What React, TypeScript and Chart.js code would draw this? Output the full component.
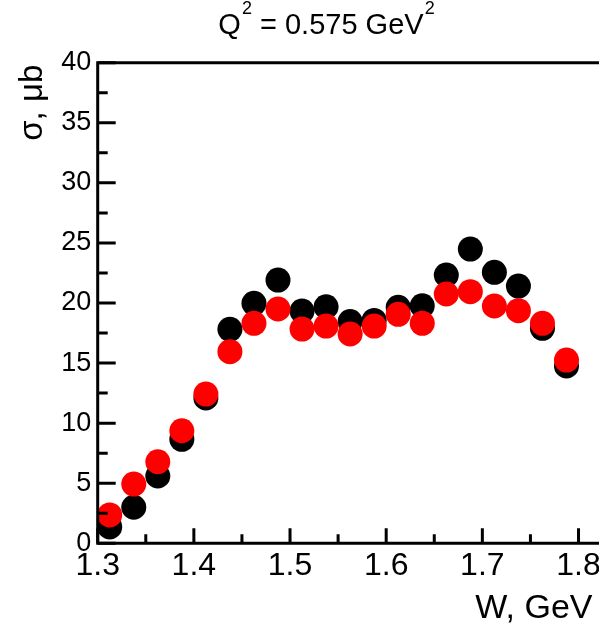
import React, { useEffect, useRef } from 'react';
import { Chart, registerables } from 'chart.js';

Chart.register(...registerables);

// ---- data ----
const W_GEV = [
  1.3125, 1.3375, 1.3625, 1.3875, 1.4125, 1.4375, 1.4625, 1.4875, 1.5125, 1.5375,
  1.5625, 1.5875, 1.6125, 1.6375, 1.6625, 1.6875, 1.7125, 1.7375, 1.7625, 1.7875,
];
const SIGMA_BLACK = [
  1.36, 3.0, 5.6, 8.65, 12.1, 17.81, 19.97, 21.91, 19.33, 19.69,
  18.45, 18.55, 19.64, 19.77, 22.33, 24.49, 22.55, 21.41, 17.89, 14.76,
];
const SIGMA_RED = [
  2.36, 4.93, 6.79, 9.37, 12.42, 15.95, 18.31, 19.5, 17.83, 18.08,
  17.42, 18.08, 19.06, 18.31, 20.75, 20.94, 19.75, 19.36, 18.31, 15.25,
];
const X_TICKS = [1.3, 1.4, 1.5, 1.6, 1.7, 1.8];
const X_MINOR = [1.35, 1.45, 1.55, 1.65, 1.75];
const Y_TICKS = [0, 5, 10, 15, 20, 25, 30, 35, 40];
const Y_MINOR = [2.5, 7.5, 12.5, 17.5, 22.5, 27.5, 32.5, 37.5];
const X_MIN = 1.3;
const X_MAX = 1.8213;
const Y_MIN = 0;
const Y_MAX = 40;
const TITLE_PARTS = [
  { text: 'Q', sup: false },
  { text: '2', sup: true },
  { text: ' = 0.575 GeV', sup: false },
  { text: '2', sup: true },
];
const Y_TITLE = 'σ, μb';
const X_TITLE = 'W, GeV';

const FAMILY = '"Liberation Sans", Arial, Helvetica, sans-serif';

const decorPlugin = {
  id: 'decor',
  afterDatasetsDraw(chart: any) {
    const { ctx, chartArea, scales } = chart;
    const xs = scales.x;
    const ys = scales.y;
    const W = chart.width;
    ctx.save();
    ctx.strokeStyle = '#000';
    ctx.lineWidth = 3;
    ctx.lineCap = 'butt';
    // frame: left axis, bottom axis, top line
    ctx.beginPath();
    ctx.moveTo(chartArea.left, chartArea.top);
    ctx.lineTo(chartArea.left, chartArea.bottom);
    ctx.moveTo(chartArea.left - 1.5, chartArea.bottom);
    ctx.lineTo(W, chartArea.bottom);
    ctx.moveTo(chartArea.left - 1.5, chartArea.top);
    ctx.lineTo(W, chartArea.top);
    ctx.stroke();
    // inward ticks
    ctx.beginPath();
    Y_TICKS.forEach((v) => {
      const y = ys.getPixelForValue(v);
      ctx.moveTo(chartArea.left, y);
      ctx.lineTo(chartArea.left + 18, y);
    });
    Y_MINOR.forEach((v) => {
      const y = ys.getPixelForValue(v);
      ctx.moveTo(chartArea.left, y);
      ctx.lineTo(chartArea.left + 10, y);
    });
    X_TICKS.forEach((v) => {
      const x = xs.getPixelForValue(v);
      ctx.moveTo(x, chartArea.bottom);
      ctx.lineTo(x, chartArea.bottom - 15);
    });
    X_MINOR.forEach((v) => {
      const x = xs.getPixelForValue(v);
      ctx.moveTo(x, chartArea.bottom);
      ctx.lineTo(x, chartArea.bottom - 9);
    });
    ctx.stroke();

    ctx.fillStyle = '#000';
    // title with superscripts
    const mainFont = `29px ${FAMILY}`;
    const supFont = `18px ${FAMILY}`;
    let total = 0;
    TITLE_PARTS.forEach((p) => {
      ctx.font = p.sup ? supFont : mainFont;
      total += ctx.measureText(p.text).width + (p.sup ? 1 : 0);
    });
    let tx = 326.5 - total / 2;
    ctx.textBaseline = 'alphabetic';
    ctx.textAlign = 'left';
    TITLE_PARTS.forEach((p) => {
      ctx.font = p.sup ? supFont : mainFont;
      ctx.fillText(p.text, tx + (p.sup ? 1 : 0), p.sup ? 14 : 33.5);
      tx += ctx.measureText(p.text).width + (p.sup ? 1 : 0);
    });

    // x axis title (right aligned)
    ctx.font = `34px ${FAMILY}`;
    ctx.textAlign = 'right';
    ctx.fillText(X_TITLE, 592.5, 618);

    // y axis title (rotated, end at top)
    ctx.save();
    ctx.translate(42, chartArea.top + 2);
    ctx.rotate(-Math.PI / 2);
    ctx.font = `33px ${FAMILY}`;
    ctx.textAlign = 'right';
    ctx.fillText(Y_TITLE, 0, 0);
    ctx.restore();
    ctx.restore();
  },
};

export default function App() {
  const ref = useRef<HTMLCanvasElement | null>(null);
  useEffect(() => {
    if (!ref.current) return;
    const chart = new Chart(ref.current, {
      type: 'scatter',
      data: {
        datasets: [
          {
            label: 'red',
            data: W_GEV.map((w, i) => ({ x: w, y: SIGMA_RED[i] })),
            backgroundColor: '#ff0000',
            borderWidth: 0,
            pointRadius: 12.5,
            pointHoverRadius: 12.5,
            order: 0,
          },
          {
            label: 'black',
            data: W_GEV.map((w, i) => ({ x: w, y: SIGMA_BLACK[i] })),
            backgroundColor: '#000000',
            borderWidth: 0,
            pointRadius: 12.5,
            pointHoverRadius: 12.5,
            order: 1,
          },
        ],
      },
      options: {
        responsive: false,
        animation: false,
        devicePixelRatio: 1,
        layout: { autoPadding: false, padding: { top: 62.7, left: 0, right: 0, bottom: 0 } },
        plugins: {
          legend: { display: false },
          title: { display: false },
          tooltip: { enabled: false },
        },
        scales: {
          x: {
            type: 'linear',
            min: X_MIN,
            max: X_MAX,
            grid: { display: false, drawTicks: false },
            border: { display: false },
            afterBuildTicks: (scale: any) => {
              scale.ticks = X_TICKS.map((value) => ({ value }));
            },
            afterFit: (scale: any) => {
              scale.height = 80.7;
              scale.paddingLeft = 0;
              scale.paddingRight = 0;
            },
            ticks: {
              autoSkip: false,
              maxRotation: 0,
              minRotation: 0,
              padding: 4,
              color: '#000',
              font: { family: FAMILY, size: 32 },
              callback: (v: any) => Number(v).toFixed(1),
            },
          },
          y: {
            type: 'linear',
            min: Y_MIN,
            max: Y_MAX,
            grid: { display: false, drawTicks: false },
            border: { display: false },
            afterBuildTicks: (scale: any) => {
              scale.ticks = Y_TICKS.map((value) => ({ value }));
            },
            afterFit: (scale: any) => {
              scale.width = 97.7;
              scale.paddingTop = 0;
              scale.paddingBottom = 0;
            },
            ticks: {
              autoSkip: false,
              padding: 6.5,
              color: '#000',
              font: { family: FAMILY, size: 27 },
              callback: (v: any) => String(v),
            },
          },
        },
      },
      plugins: [decorPlugin],
    });
    return () => chart.destroy();
  }, []);
  return (
    <div style={{ position: 'absolute', left: 0, top: 0, width: 599, height: 624, overflow: 'hidden', background: '#fff' }}>
      <canvas ref={ref} width={599} height={624} style={{ display: 'block' }} />
    </div>
  );
}
